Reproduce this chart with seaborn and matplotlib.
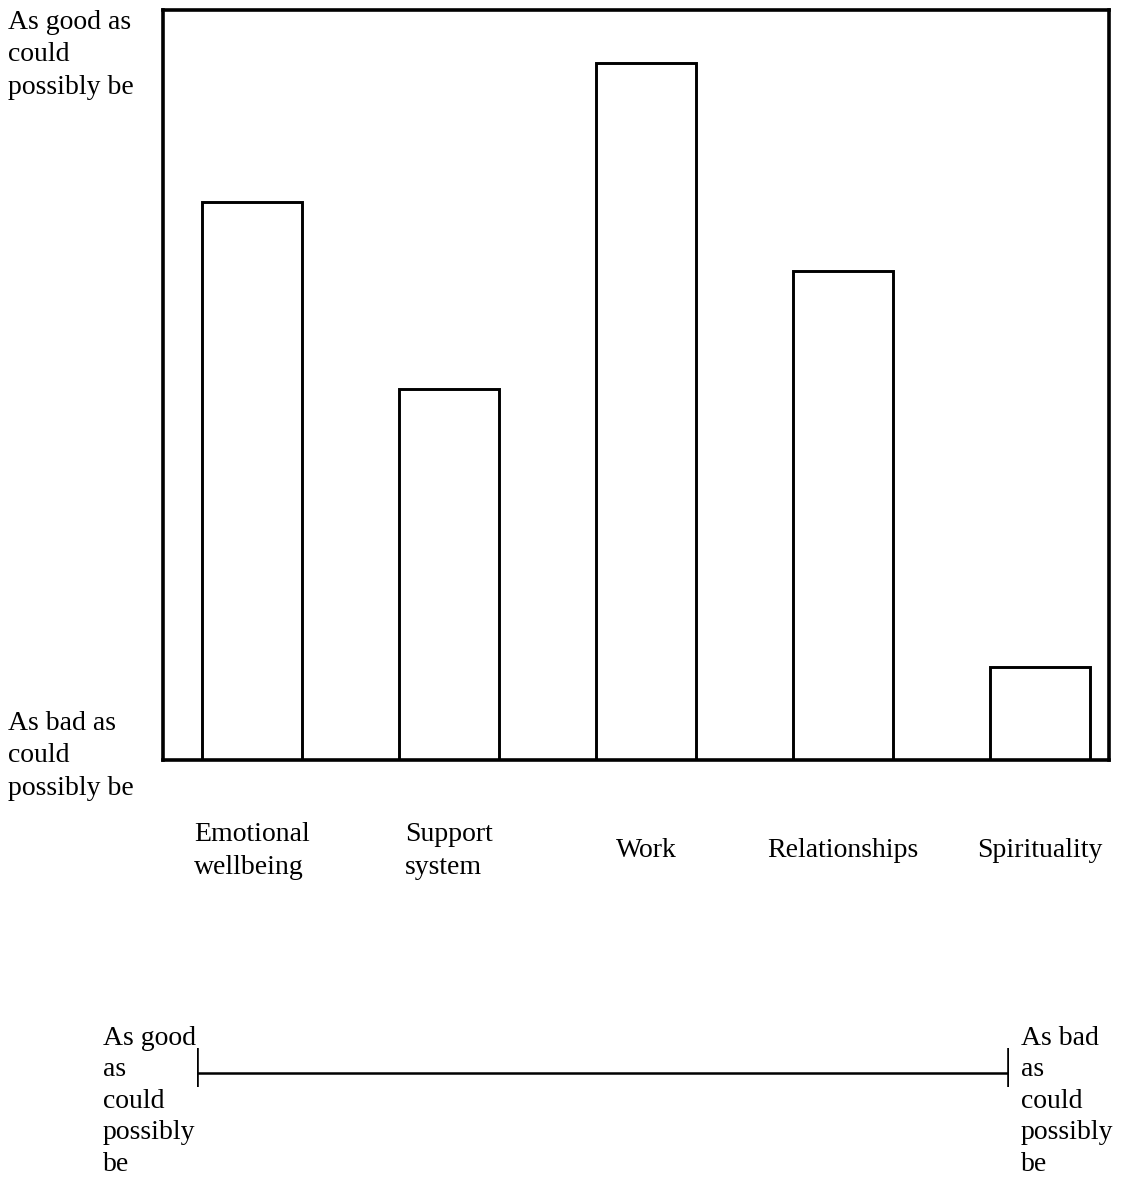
import matplotlib
matplotlib.use("Agg")
import matplotlib.pyplot as plt
import seaborn as sns
import pandas as pd

# life-domain ratings, 0 = as bad as could possibly be, 100 = as good as could possibly be
categories = ["Emotional\nwellbeing", "Support\nsystem", "Work", "Relationships", "Spirituality"]
ratings = [74.4, 49.5, 92.9, 65.2, 12.4]

top_label = "As good as\ncould\npossibly be"
bottom_label = "As bad as\ncould\npossibly be"
scale_left = "As good\nas\ncould\npossibly\nbe"
scale_right = "As bad\nas\ncould\npossibly\nbe"

FS = 20
LS = 1.39

sns.set_style("white")
plt.rcParams["font.family"] = ["Liberation Serif", "DejaVu Serif"]
plt.rcParams["font.size"] = FS
plt.rcParams["text.color"] = "black"
plt.rcParams["xtick.color"] = "black"

df = pd.DataFrame({"domain": categories, "rating": ratings})

fig = plt.figure(figsize=(11.23, 11.78), dpi=100)
ax = fig.add_axes([163 / 1123, 1 - 760 / 1178, (1109 - 163) / 1123, 750 / 1178])

sns.barplot(data=df, x="domain", y="rating", order=categories, color="white",
            edgecolor="black", linewidth=2.1, width=0.507, saturation=1, ax=ax)
ax.set_xlim(-0.451, 4.35)
ax.set_ylim(0, 100)
ax.set_xlabel("")
ax.set_ylabel("")
ax.set_yticks([])
ax.tick_params(axis="x", length=0, pad=65.5, labelsize=FS, labelcolor="black")
for lab in ax.get_xticklabels():
    lab.set_va("center")
    lab.set_multialignment("left")
    lab.set_linespacing(LS)
for sp in ax.spines.values():
    sp.set_visible(True)
    sp.set_color("black")
    sp.set_linewidth(2.6)

# end labels of the rating axis
fig.text(8 / 1123, 1 - 10 / 1178, top_label, ha="left", va="top", fontsize=FS, linespacing=LS)
fig.text(8 / 1123, 1 - 711 / 1178, bottom_label, ha="left", va="top", fontsize=FS, linespacing=LS)

# the horizontal reference scale underneath
ax2 = fig.add_axes([197 / 1123, 1 - 1087 / 1178, (1009 - 197) / 1123, 39 / 1178])
ax2.set_xlim(0, 1)
ax2.set_ylim(-1, 1)
ax2.axis("off")
ax2.plot([0, 1], [-0.3, -0.3], color="black", linewidth=1.8, solid_capstyle="butt")
ax2.vlines([0, 1], -1, 1, color="black", linewidth=2.6)

fig.text(103 / 1123, 1 - 1026 / 1178, scale_left, ha="left", va="top", fontsize=FS, linespacing=1.34)
fig.text(1021 / 1123, 1 - 1026 / 1178, scale_right, ha="left", va="top", fontsize=FS, linespacing=1.34)

fig.savefig("out.png", dpi=100)
